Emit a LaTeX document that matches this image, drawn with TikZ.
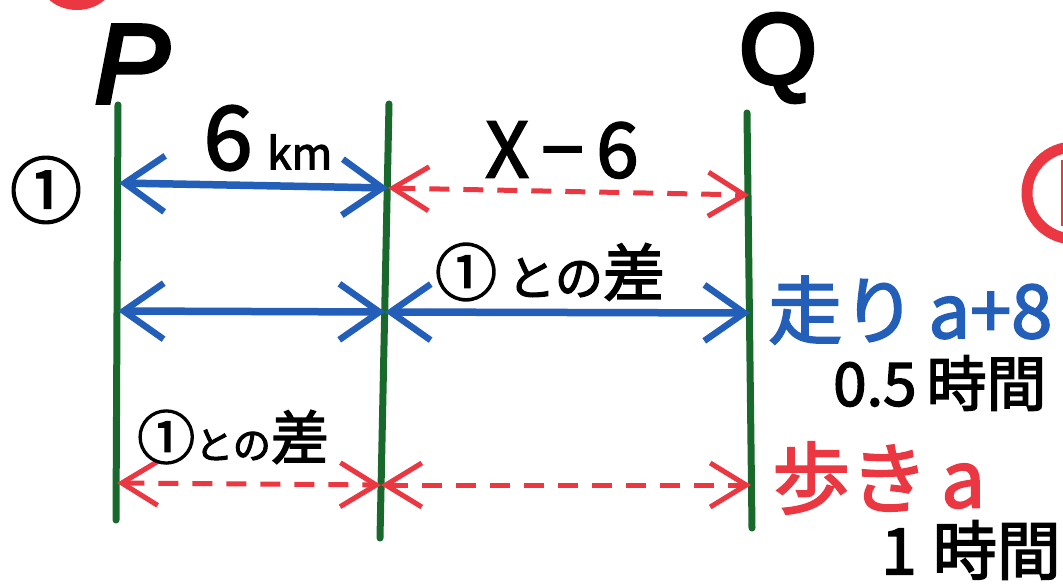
\documentclass[tikz,border=0pt]{standalone}
\usepackage{fontspec}
\setmainfont{Noto Sans CJK JP}
\newfontfamily\jp{Noto Sans CJK JP}[FakeBold=2.5]
\newfontfamily\latb{Liberation Sans}[FakeBold=4]
\usetikzlibrary{arrows.meta}
\definecolor{gline}{RGB}{25,105,45}
\definecolor{bline}{RGB}{35,95,185}
\definecolor{rline}{RGB}{235,55,65}
\tikzset{
  vline/.style={draw=gline, line width=7pt, line cap=round},
  blue arrow/.style={draw=bline, line width=7.5pt,
     {Straight Barb[length=40pt,width=56pt,line width=6.5pt]}-{Straight Barb[length=40pt,width=56pt,line width=6.5pt]}},
  red arrow/.style={draw=rline, line width=5pt, dash pattern=on 20pt off 14pt,
     {Straight Barb[length=36pt,width=44pt,line width=5pt]}-{Straight Barb[length=36pt,width=44pt,line width=5pt]}},
  label/.style={inner sep=0pt, text=black},
}
\begin{document}
\begin{tikzpicture}[x=1pt,y=-1pt]
\useasboundingbox (0,0) rectangle (1063,588);
\fill[white] (0,0) rectangle (1063,588);
% partial red marks cut by the edge
\begin{scope}
  \clip (0,0) rectangle (1063,588);
  \fill[rline] (77,-22) ellipse [x radius=38, y radius=32];
  \draw[rline, line width=11pt] (1074,193) ellipse [x radius=47, y radius=46];
  \draw[rline, line width=7pt] (1064,160) -- (1064,226);
\end{scope}
% vertical lines
\coordinate (PT) at (118,105); \coordinate (PB) at (116,520);
\coordinate (MT) at (389,104); \coordinate (MB) at (380,538);
\coordinate (QT) at (747,113); \coordinate (QB) at (752,528);
\draw[vline] (PT) -- (PB);
\draw[vline] (MT) -- (MB);
\draw[vline] (QT) -- (QB);
% row 1
\coordinate (a1) at (119,183); \coordinate (b1) at (388,188); \coordinate (c1) at (749,195);
\draw[blue arrow] (a1) -- (b1);
\draw[red arrow] (b1) -- (c1);
% row 2
\coordinate (a2) at (118,311); \coordinate (b2) at (385,312); \coordinate (c2) at (750,313);
\draw[blue arrow] (a2) -- (b2);
\draw[blue arrow] (b2) -- (c2);
% row 3
\coordinate (a3) at (117,483); \coordinate (b3) at (381,485); \coordinate (c3) at (751,485);
\draw[red arrow] (a3) -- (b3);
\draw[red arrow] (b3) -- (c3);
% labels
\node[label] (P) at (132,64) {\latb\itshape\fontsize{112}{112}\selectfont P};
\node[label] (Q) at (778,58) {\latb\fontsize{100}{100}\selectfont Q};
\node[label] (one) at (46,190) {\jp\fontsize{72}{72}\selectfont ①};
\node[label] (sixkm) at (268,138) {\jp\fontsize{88}{88}\selectfont 6\,{\fontsize{44}{44}\selectfont km}};
\node[label] (xm6) at (562,150) {\jp\fontsize{76}{76}\selectfont X\,−\,6};
\node[label] (diff1) at (550,272) {\jp\fontsize{62}{62}\selectfont ①\,{\fontsize{48}{48}\selectfont との}差};
\node[label, anchor=west, text=bline] (run) at (768,310) {\jp\fontsize{74}{74}\selectfont 走り\,a+8};
\node[label, anchor=west] (half) at (833,383) {\jp\fontsize{60}{60}\selectfont 0.5\,時間};
\node[label] (diff2) at (233,437) {\jp\fontsize{58}{58}\selectfont ①{\fontsize{38}{38}\selectfont との}差};
\node[label, anchor=west, text=rline] (walk) at (772,478) {\jp\fontsize{78}{78}\selectfont 歩き\,a};
\node[label, anchor=east] (hour) at (1061,550) {\jp\fontsize{64}{64}\selectfont 1\hspace{16pt}時間};
\end{tikzpicture}
\end{document}
